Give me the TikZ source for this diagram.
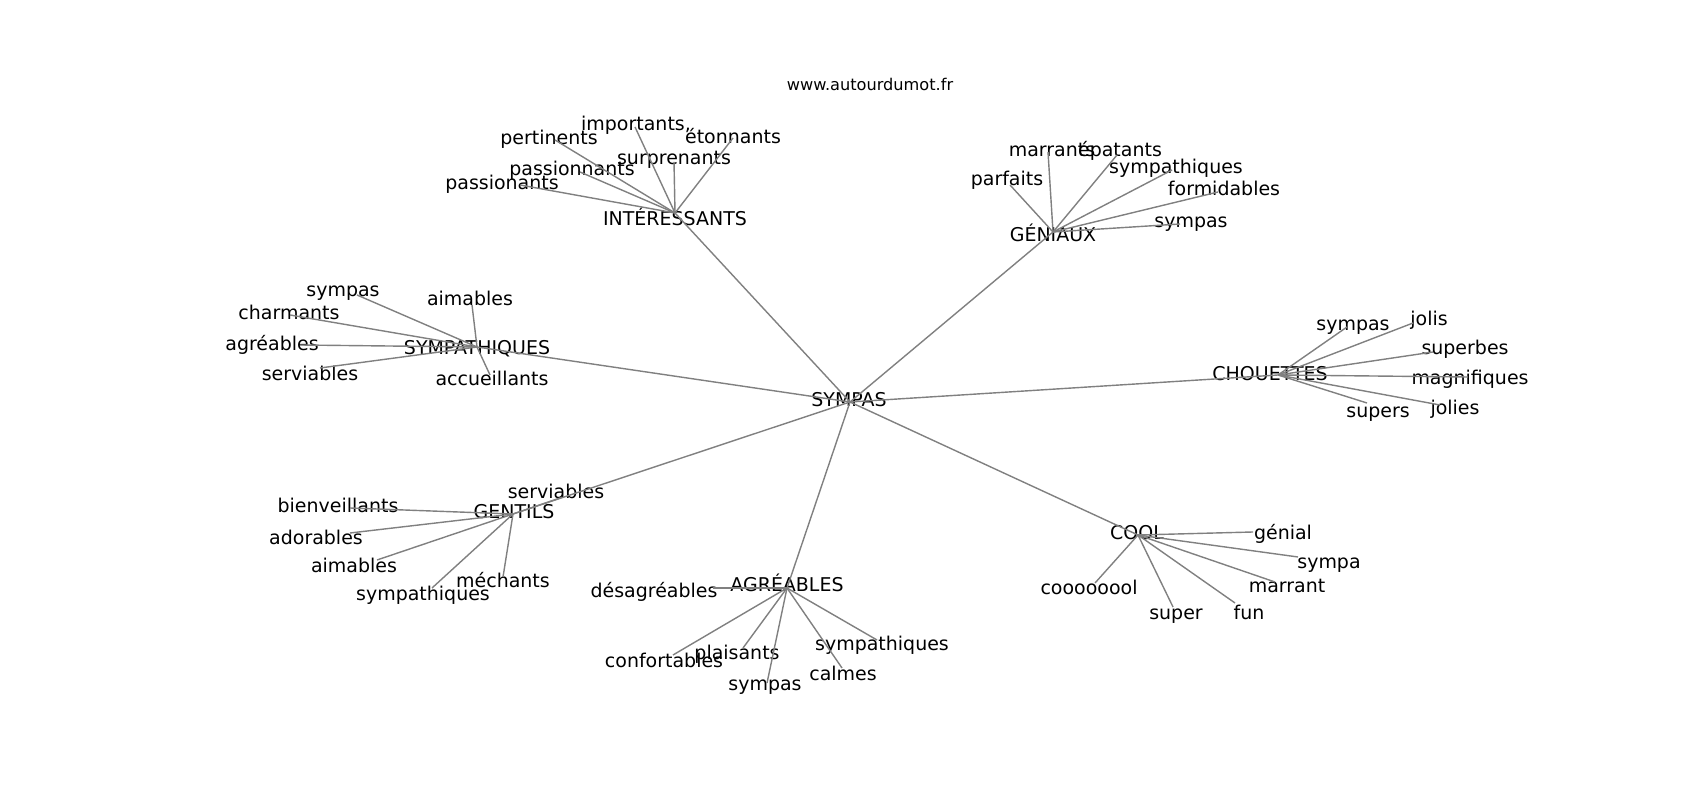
\documentclass[tikz,border=0pt]{standalone}
\usepackage{fontspec}
\setmainfont{DejaVu Sans}

\begin{document}
\begin{tikzpicture}[x=0.1mm,y=-0.1mm,
  word/.style={font=\fontsize{5.4}{6.5}\selectfont,inner sep=0pt,text height=4.1pt,text depth=1.3pt,yshift=-0.3mm},
  link/.style={draw=gray,line width=0.4pt}]
  \useasboundingbox (0,0) rectangle (1700,800);

  \node[word,font=\fontsize{4.6}{5.5}\selectfont] (site) at (870,83) {www.autourdumot.fr};

  % hubs
  \coordinate (sympas) at (850,402);
  \coordinate (inter) at (675,213);
  \coordinate (geni) at (1053,232);
  \coordinate (sympa) at (477,347);
  \coordinate (chou) at (1278,375);
  \coordinate (gent) at (513,514);
  \coordinate (agre) at (787,588);
  \coordinate (cool) at (1138,535);
  \node[word] (sympas-t) at (849,399) {SYMPAS};
  \node[word] (inter-t) at (675,218) {INTÉRESSANTS};
  \node[word] (geni-t) at (1053,234) {GÉNIAUX};
  \node[word] (sympa-t) at (477,347) {SYMPATHIQUES};
  \node[word] (chou-t) at (1270,373) {CHOUETTES};
  \node[word] (gent-t) at (514,511) {GENTILS};
  \node[word] (agre-t) at (787,584) {AGRÉABLES};
  \node[word] (cool-t) at (1137,532) {COOL};

  % leaves
  \coordinate (i1) at (635,127); \node[word] (i1-t) at (636,123) {importants,};
  \coordinate (i2) at (555,140); \node[word] (i2-t) at (549,137) {pertinents};
  \coordinate (i3) at (733,138); \node[word] (i3-t) at (733,136) {étonnants};
  \coordinate (i4) at (674,162); \node[word] (i4-t) at (674,157) {surprenants};
  \coordinate (i5) at (580,172); \node[word] (i5-t) at (572,168) {passionnants};
  \coordinate (i6) at (520,185); \node[word] (i6-t) at (502,182) {passionants};

  \coordinate (g1) at (1048,152); \node[word] (g1-t) at (1052,149) {marrants};
  \coordinate (g2) at (1117,155); \node[word] (g2-t) at (1120,149) {épatants};
  \coordinate (g3) at (1172,170); \node[word] (g3-t) at (1176,166) {sympathiques};
  \coordinate (g4) at (1010,185); \node[word] (g4-t) at (1007,178) {parfaits};
  \coordinate (g5) at (1218,192); \node[word] (g5-t) at (1224,188) {formidables};
  \coordinate (g6) at (1180,224); \node[word] (g6-t) at (1191,220) {sympas};

  \coordinate (s1) at (357,295); \node[word] (s1-t) at (343,289) {sympas};
  \coordinate (s2) at (472,305); \node[word] (s2-t) at (470,298) {aimables};
  \coordinate (s3) at (290,315); \node[word] (s3-t) at (289,312) {charmants};
  \coordinate (s4) at (300,345); \node[word] (s4-t) at (272,343) {agréables};
  \coordinate (s5) at (320,368); \node[word] (s5-t) at (310,373) {serviables};
  \coordinate (s6) at (490,375); \node[word] (s6-t) at (492,378) {accueillants};

  \coordinate (c1) at (1347,327); \node[word] (c1-t) at (1353,323) {sympas};
  \coordinate (c2) at (1413,323); \node[word] (c2-t) at (1429,318) {jolis};
  \coordinate (c3) at (1433,352); \node[word] (c3-t) at (1465,347) {superbes};
  \coordinate (c4) at (1468,377); \node[word] (c4-t) at (1470,377) {magnifiques};
  \coordinate (c5) at (1367,403); \node[word] (c5-t) at (1378,410) {supers};
  \coordinate (c6) at (1440,405); \node[word] (c6-t) at (1455,407) {jolies};

  \coordinate (t1) at (560,498); \node[word] (t1-t) at (556,491) {serviables};
  \coordinate (t2) at (350,508); \node[word] (t2-t) at (338,505) {bienveillants};
  \coordinate (t3) at (350,533); \node[word] (t3-t) at (316,537) {adorables};
  \coordinate (t4) at (377,560); \node[word] (t4-t) at (354,565) {aimables};
  \coordinate (t5) at (432,588); \node[word] (t5-t) at (423,593) {sympathiques};
  \coordinate (t6) at (503,577); \node[word] (t6-t) at (503,580) {méchants};

  \coordinate (a1) at (713,588); \node[word] (a1-t) at (654,590) {désagréables};
  \coordinate (a2) at (673,655); \node[word] (a2-t) at (664,660) {confortables};
  \coordinate (a3) at (743,648); \node[word] (a3-t) at (737,652) {plaisants};
  \coordinate (a4) at (767,683); \node[word] (a4-t) at (765,683) {sympas};
  \coordinate (a5) at (842,668); \node[word] (a5-t) at (843,673) {calmes};
  \coordinate (a6) at (877,640); \node[word] (a6-t) at (882,643) {sympathiques};

  \coordinate (k1) at (1253,532); \node[word] (k1-t) at (1283,532) {génial};
  \coordinate (k2) at (1298,557); \node[word] (k2-t) at (1329,561) {sympa};
  \coordinate (k3) at (1275,582); \node[word] (k3-t) at (1287,585) {marrant};
  \coordinate (k4) at (1235,603); \node[word] (k4-t) at (1249,612) {fun};
  \coordinate (k5) at (1173,607); \node[word] (k5-t) at (1176,612) {super};
  \coordinate (k6) at (1095,583); \node[word] (k6-t) at (1089,587) {coooooool};

  \path[link]
    (sympas) edge (inter)
             edge (geni)
             edge (sympa)
             edge (chou)
             edge (gent)
             edge (agre)
             edge (cool)
    (inter) edge (i1) edge (i2) edge (i3) edge (i4) edge (i5) edge (i6)
    (geni) edge (g1) edge (g2) edge (g3) edge (g4) edge (g5) edge (g6)
    (sympa) edge (s1) edge (s2) edge (s3) edge (s4) edge (s5) edge (s6)
    (chou) edge (c1) edge (c2) edge (c3) edge (c4) edge (c5) edge (c6)
    (gent) edge (t1) edge (t2) edge (t3) edge (t4) edge (t5) edge (t6)
    (agre) edge (a1) edge (a2) edge (a3) edge (a4) edge (a5) edge (a6)
    (cool) edge (k1) edge (k2) edge (k3) edge (k4) edge (k5) edge (k6);
\end{tikzpicture}
\end{document}
